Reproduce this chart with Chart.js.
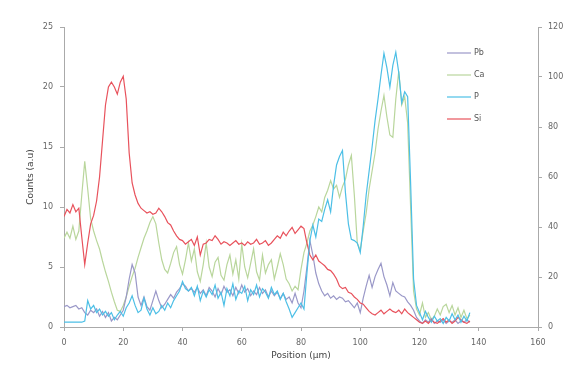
<!DOCTYPE html>
<html>
<head>
<meta charset="utf-8">
<script src="https://cdn.jsdelivr.net/npm/chart.js@4.4.0/dist/chart.umd.min.js"></script>
<style>
  html, body { margin: 0; padding: 0; background: #fff; }
  #wrap { width: 575px; height: 369px; }
</style>
</head>
<body>
<div id="wrap"><canvas id="myChart" width="575" height="369"></canvas></div>
<script>
// position along the line scan (µm)
const positions = [0,1,2,3,4,5,6,7,8,9,10,11,12,13,14,15,16,17,18,19,20,21,22,23,24,25,26,27,28,29,
  30,31,32,33,34,35,36,37,38,39,40,41,42,43,44,45,46,47,48,49,50,51,52,53,54,55,56,57,58,59,
  60,61,62,63,64,65,66,67,68,69,70,71,72,73,74,75,76,77,78,79,80,81,82,83,84,85,86,87,88,89,
  90,91,92,93,94,95,96,97,98,99,100,101,102,103,104,105,106,107,108,109,110,111,112,113,114,115,116,117,118,119,
  120,121,122,123,124,125,126,127,128,129,130,131,132,133,134,135,136,137];

const pb = [1.7,1.8,1.6,1.7,1.8,1.5,1.6,1.2,1.0,1.4,1.2,1.5,0.9,1.3,0.8,1.2,0.5,0.8,0.6,1.0,
  1.4,2.5,4.0,5.2,4.5,2.5,1.8,2.5,1.7,1.4,2.2,3.0,2.2,1.6,1.9,2.3,2.7,2.4,2.9,3.2,
  3.6,3.4,3.0,3.2,2.9,3.3,2.8,3.1,2.6,3.3,3.0,2.5,3.2,2.7,3.4,2.9,3.1,2.6,3.3,2.8,
  3.5,2.9,3.2,2.6,3.0,2.7,3.3,2.8,3.1,2.5,3.0,2.6,2.9,2.4,2.8,2.3,2.5,2.0,2.8,2.0,
  1.6,3.0,5.0,7.2,6.0,4.5,3.6,3.0,2.6,2.8,2.4,2.6,2.3,2.5,2.4,2.1,2.2,1.9,1.6,2.0,
  1.2,2.4,3.4,4.3,3.3,4.2,4.8,5.3,4.2,3.5,2.6,3.7,3.0,2.8,2.6,2.5,2.1,1.8,1.4,0.8,
  0.5,0.3,0.6,0.4,0.7,0.3,0.5,0.4,0.6,0.3,0.5,0.4,0.6,0.3,0.5,0.4,0.6,0.4];

const ca = [7.4,7.9,7.4,8.4,7.3,8.0,11.0,13.8,11.5,9.0,8.0,7.2,6.5,5.5,4.6,3.8,2.9,2.1,1.4,1.3,
  1.8,2.5,3.4,4.2,4.9,5.8,6.6,7.4,8.0,8.7,9.2,8.6,7.0,5.6,4.8,4.5,5.3,6.2,6.7,5.2,
  4.4,5.6,7.0,5.5,6.5,4.6,3.8,5.2,7.0,5.0,4.2,5.4,5.8,4.3,3.9,5.2,6.0,4.4,5.6,4.0,
  6.9,5.0,4.1,5.3,6.5,4.6,3.9,6.0,4.5,5.2,5.6,4.0,5.0,6.1,5.2,4.0,3.6,3.0,3.4,3.1,
  4.8,6.2,7.0,8.0,8.5,9.2,10.0,9.6,10.8,11.4,12.2,11.5,11.8,10.8,11.7,12.3,13.5,14.3,11.0,7.0,
  6.4,8.0,9.5,11.5,13.0,14.5,16.5,18.0,19.3,17.5,16.0,15.8,19.0,21.3,18.5,19.2,17.0,10.0,3.0,1.5,
  1.0,2.0,0.8,1.2,0.6,0.9,1.5,1.0,1.7,1.9,1.2,1.8,1.0,1.6,0.8,1.4,0.7,1.0];

const p = [0.4,0.4,0.4,0.4,0.4,0.4,0.4,0.5,2.2,1.5,1.8,1.2,1.5,1.0,1.3,0.9,1.2,0.6,1.0,1.3,
  0.9,1.6,2.0,2.6,1.8,1.2,1.4,2.4,1.5,1.0,1.6,1.1,1.3,1.8,1.4,2.0,1.6,2.2,2.6,3.0,
  3.8,3.2,3.0,3.3,2.6,3.4,2.2,3.0,2.5,3.1,2.7,3.5,2.4,2.9,1.8,3.2,2.6,3.6,2.3,3.0,
  2.8,3.4,2.2,3.1,2.7,3.5,2.5,3.2,2.9,2.4,3.3,2.7,3.0,2.3,2.8,2.1,1.5,0.8,1.2,1.6,
  2.0,1.5,4.5,7.2,8.5,7.5,9.0,8.8,9.8,10.6,9.6,11.8,13.5,14.2,14.7,11.2,8.6,7.3,7.2,7.0,
  6.2,8.4,11.0,13.0,15.0,17.2,19.0,21.0,22.8,21.6,20.0,21.8,22.9,21.2,18.7,19.6,19.2,12.0,4.0,1.8,
  1.2,0.6,1.3,0.8,0.4,0.9,0.5,0.7,0.3,0.8,0.5,1.1,0.6,1.0,0.4,0.9,0.5,1.2];

const si = [9.2,9.8,9.5,10.2,9.6,9.9,7.5,5.2,7.0,8.6,9.3,10.5,12.5,15.5,18.5,20.0,20.4,20.0,19.4,20.4,
  20.9,19.0,14.5,12.0,11.0,10.3,9.9,9.7,9.5,9.6,9.4,9.5,9.9,9.6,9.2,8.7,8.5,8.0,7.6,7.3,
  7.2,6.9,7.1,7.3,6.8,7.5,6.0,6.9,7.0,7.3,7.2,7.6,7.3,6.9,7.1,7.0,6.8,7.0,7.2,6.9,
  7.0,6.8,7.1,6.9,7.0,7.3,6.9,7.0,7.2,6.8,7.0,7.3,7.6,7.4,7.9,7.6,8.0,8.3,7.8,8.1,
  8.4,8.2,7.0,6.0,5.6,6.0,5.5,5.3,5.1,4.8,4.7,4.4,4.0,3.4,3.2,3.3,2.9,2.8,2.5,2.3,
  2.0,1.9,1.6,1.3,1.1,1.0,1.2,1.4,1.1,1.3,1.5,1.3,1.2,1.4,1.1,1.5,1.2,1.0,0.8,0.6,
  0.4,0.3,0.5,0.3,0.6,0.4,0.3,0.5,0.7,0.4,0.6,0.3,0.5,0.8,0.6,0.4,0.3,0.5];

const seriesNames = ['Pb', 'Ca', 'P', 'Si'];
const seriesColors = ['#9a98c8', '#b9d69c', '#4cbfe6', '#e8525c'];
const seriesValues = [pb, ca, p, si];

function toPoints(vals) {
  return vals.map(function(v, i) { return { x: positions[i], y: v }; });
}

// legend drawn inside the plot, like the original
const innerLegend = {
  id: 'innerLegend',
  afterDatasetsDraw: function(chart) {
    var c = chart.ctx;
    c.save();
    c.font = '8px "DejaVu Sans"';
    c.textBaseline = 'middle';
    chart.data.datasets.forEach(function(ds, i) {
      var y = 53 + i * 22;
      c.strokeStyle = ds.borderColor;
      c.lineWidth = 1.2;
      c.beginPath();
      c.moveTo(447, y);
      c.lineTo(471, y);
      c.stroke();
      c.fillStyle = '#555';
      c.fillText(ds.label, 474, y);
    });
    c.restore();
  }
};

var ctx = document.getElementById('myChart').getContext('2d');
var tickFont = { family: 'DejaVu Sans', size: 8 };

new Chart(ctx, {
  type: 'line',
  data: {
    datasets: seriesNames.map(function(name, i) {
      return {
        label: name,
        data: toPoints(seriesValues[i]),
        borderColor: seriesColors[i],
        backgroundColor: seriesColors[i],
        borderWidth: 1.2,
        pointRadius: 0,
        tension: 0,
        yAxisID: 'y',
        order: i === 2 ? 0 : (i === 3 ? 1 : 2)
      };
    })
  },
  options: {
    responsive: false,
    animation: false,
    layout: { padding: { left: 25, top: 27, right: 0, bottom: 0 } },
    plugins: { legend: { display: false }, tooltip: { enabled: false } },
    scales: {
      x: {
        type: 'linear',
        min: 0, max: 160,
        ticks: { stepSize: 20, color: '#666', font: tickFont, padding: 7, maxRotation: 0 },
        grid: { drawOnChartArea: false, drawTicks: true, tickLength: 4, color: '#aaa' },
        border: { display: true, color: '#aaa' },
        title: { display: true, text: 'Position (µm)', color: '#444', font: { family: 'DejaVu Sans', size: 9 }, padding: { top: 0, bottom: 8 } },
        afterFit: function(s) { s.height = 42; }
      },
      y: {
        position: 'left',
        min: 0, max: 25,
        ticks: { stepSize: 5, color: '#666', font: tickFont, padding: 7 },
        grid: { drawOnChartArea: false, drawTicks: true, tickLength: 4, color: '#aaa' },
        border: { display: true, color: '#aaa' },
        title: { display: true, text: 'Counts (a.u)', color: '#444', font: { family: 'DejaVu Sans', size: 9 }, padding: { top: 0, bottom: 0 } },
        afterFit: function(s) { s.width = 39; }
      },
      y2: {
        position: 'right',
        min: 0, max: 120,
        ticks: { stepSize: 20, color: '#666', font: tickFont, padding: 6 },
        grid: { drawOnChartArea: false, drawTicks: true, tickLength: 4, color: '#aaa' },
        border: { display: true, color: '#aaa' },
        afterFit: function(s) { s.width = 37; }
      }
    }
  },
  plugins: [innerLegend]
});
</script>
</body>
</html>
